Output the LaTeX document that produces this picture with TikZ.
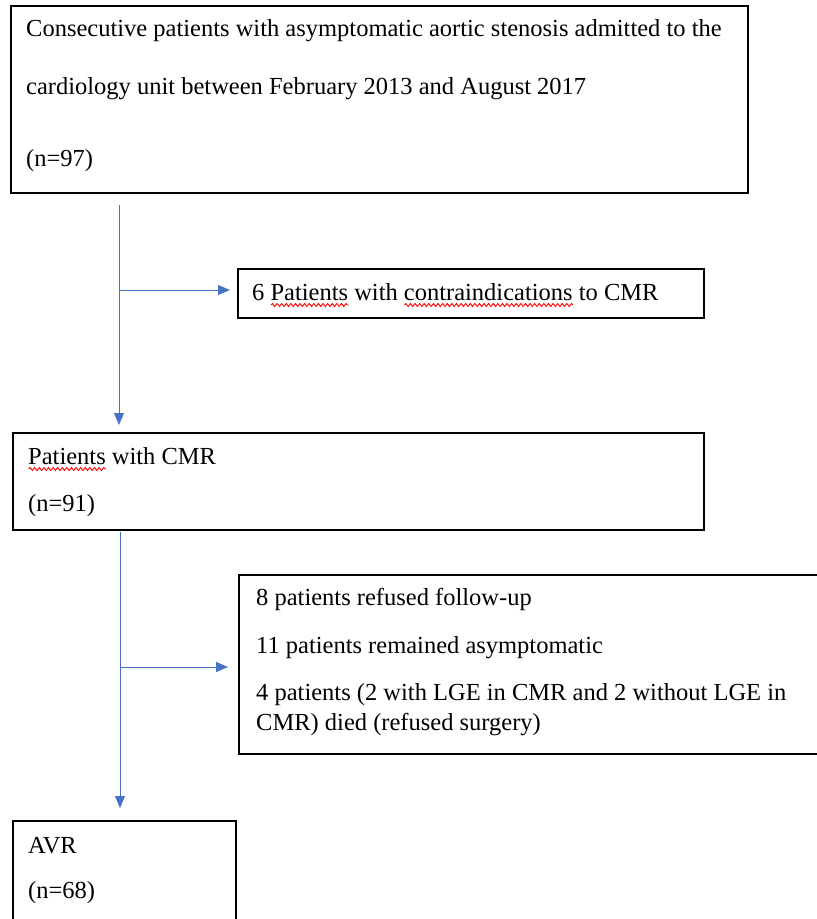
\documentclass[tikz,border=0pt]{standalone}
\usepackage{fontspec}
\setmainfont{Liberation Serif}
\usetikzlibrary{arrows.meta,decorations.pathmorphing}
\definecolor{arrowblue}{HTML}{4472C4}
\newlength\sqlen
\newcommand\sqwave[1]{\settowidth{\sqlen}{#1}\rlap{\tikz[baseline=0pt]\draw[red, line width=0.9pt, decorate, decoration={snake, amplitude=1.5pt, segment length=4.6pt}] (0pt,-5pt) -- (\sqlen,-5pt);}#1}
\tikzset{
  flowbox/.style={draw=black, line width=1.7pt, rectangle, inner sep=0pt, anchor=north west},
  boxtext/.style={inner sep=0pt, anchor=base west, font=\fontsize{24.5}{29}\selectfont},
  flowarrow/.style={draw=arrowblue, line width=1pt, -{Triangle[length=12pt,width=10pt]}}
}
\begin{document}
\begin{tikzpicture}[x=1pt,y=-1pt]
\useasboundingbox (0,0) rectangle (817,919);
\clip (0,0) rectangle (817,919);
% boxes
\node[flowbox, minimum width=737pt, minimum height=187pt] (b1) at (10,5) {};
\node[flowbox, minimum width=466pt, minimum height=49pt] (b2) at (237,268) {};
\node[flowbox, minimum width=691pt, minimum height=97pt] (b3) at (12,432) {};
\node[flowbox, minimum width=620pt, minimum height=179pt] (b4) at (238,574) {};
\node[flowbox, minimum width=223pt, minimum height=140pt] (b5) at (12,820) {};
% texts
\node[boxtext] (t1a) at (26,36) {Consecutive patients with asymptomatic aortic stenosis admitted to the};
\node[boxtext] (t1b) at (26,94) {cardiology unit between February 2013 and August 2017};
\node[boxtext] (t1c) at (26,166) {(n=97)};
\node[boxtext] (t2) at (252,300) {6 \sqwave{Patients} with \sqwave{contraindications} to CMR};
\node[boxtext] (t3a) at (28,464) {\sqwave{Patients} with CMR};
\node[boxtext] (t3b) at (28,511) {(n=91)};
\node[boxtext] (t4a) at (256,605) {8 patients refused follow-up};
\node[boxtext] (t4b) at (256,653) {11 patients remained asymptomatic};
\node[boxtext] (t4c) at (256,700) {4 patients (2 with LGE in CMR and 2 without LGE in};
\node[boxtext] (t4d) at (256,730) {CMR) died (refused surgery)};
\node[boxtext] (t5a) at (28,853) {AVR};
\node[boxtext] (t5b) at (28,898) {(n=68)};
% connectors
\coordinate (s1) at (119,205);
\coordinate (j1) at (119,290);
\coordinate (s2) at (120,532);
\coordinate (j2) at (120,667);
\draw[flowarrow, shorten >=7pt] (s1) -- (s1 |- b3.north);
\draw[flowarrow, shorten >=7pt] (j1) -- (b2.west |- j1);
\draw[flowarrow, shorten >=12pt] (s2) -- (s2 |- b5.north);
\draw[flowarrow, shorten >=10pt] (j2) -- (b4.west |- j2);
\end{tikzpicture}
\end{document}
